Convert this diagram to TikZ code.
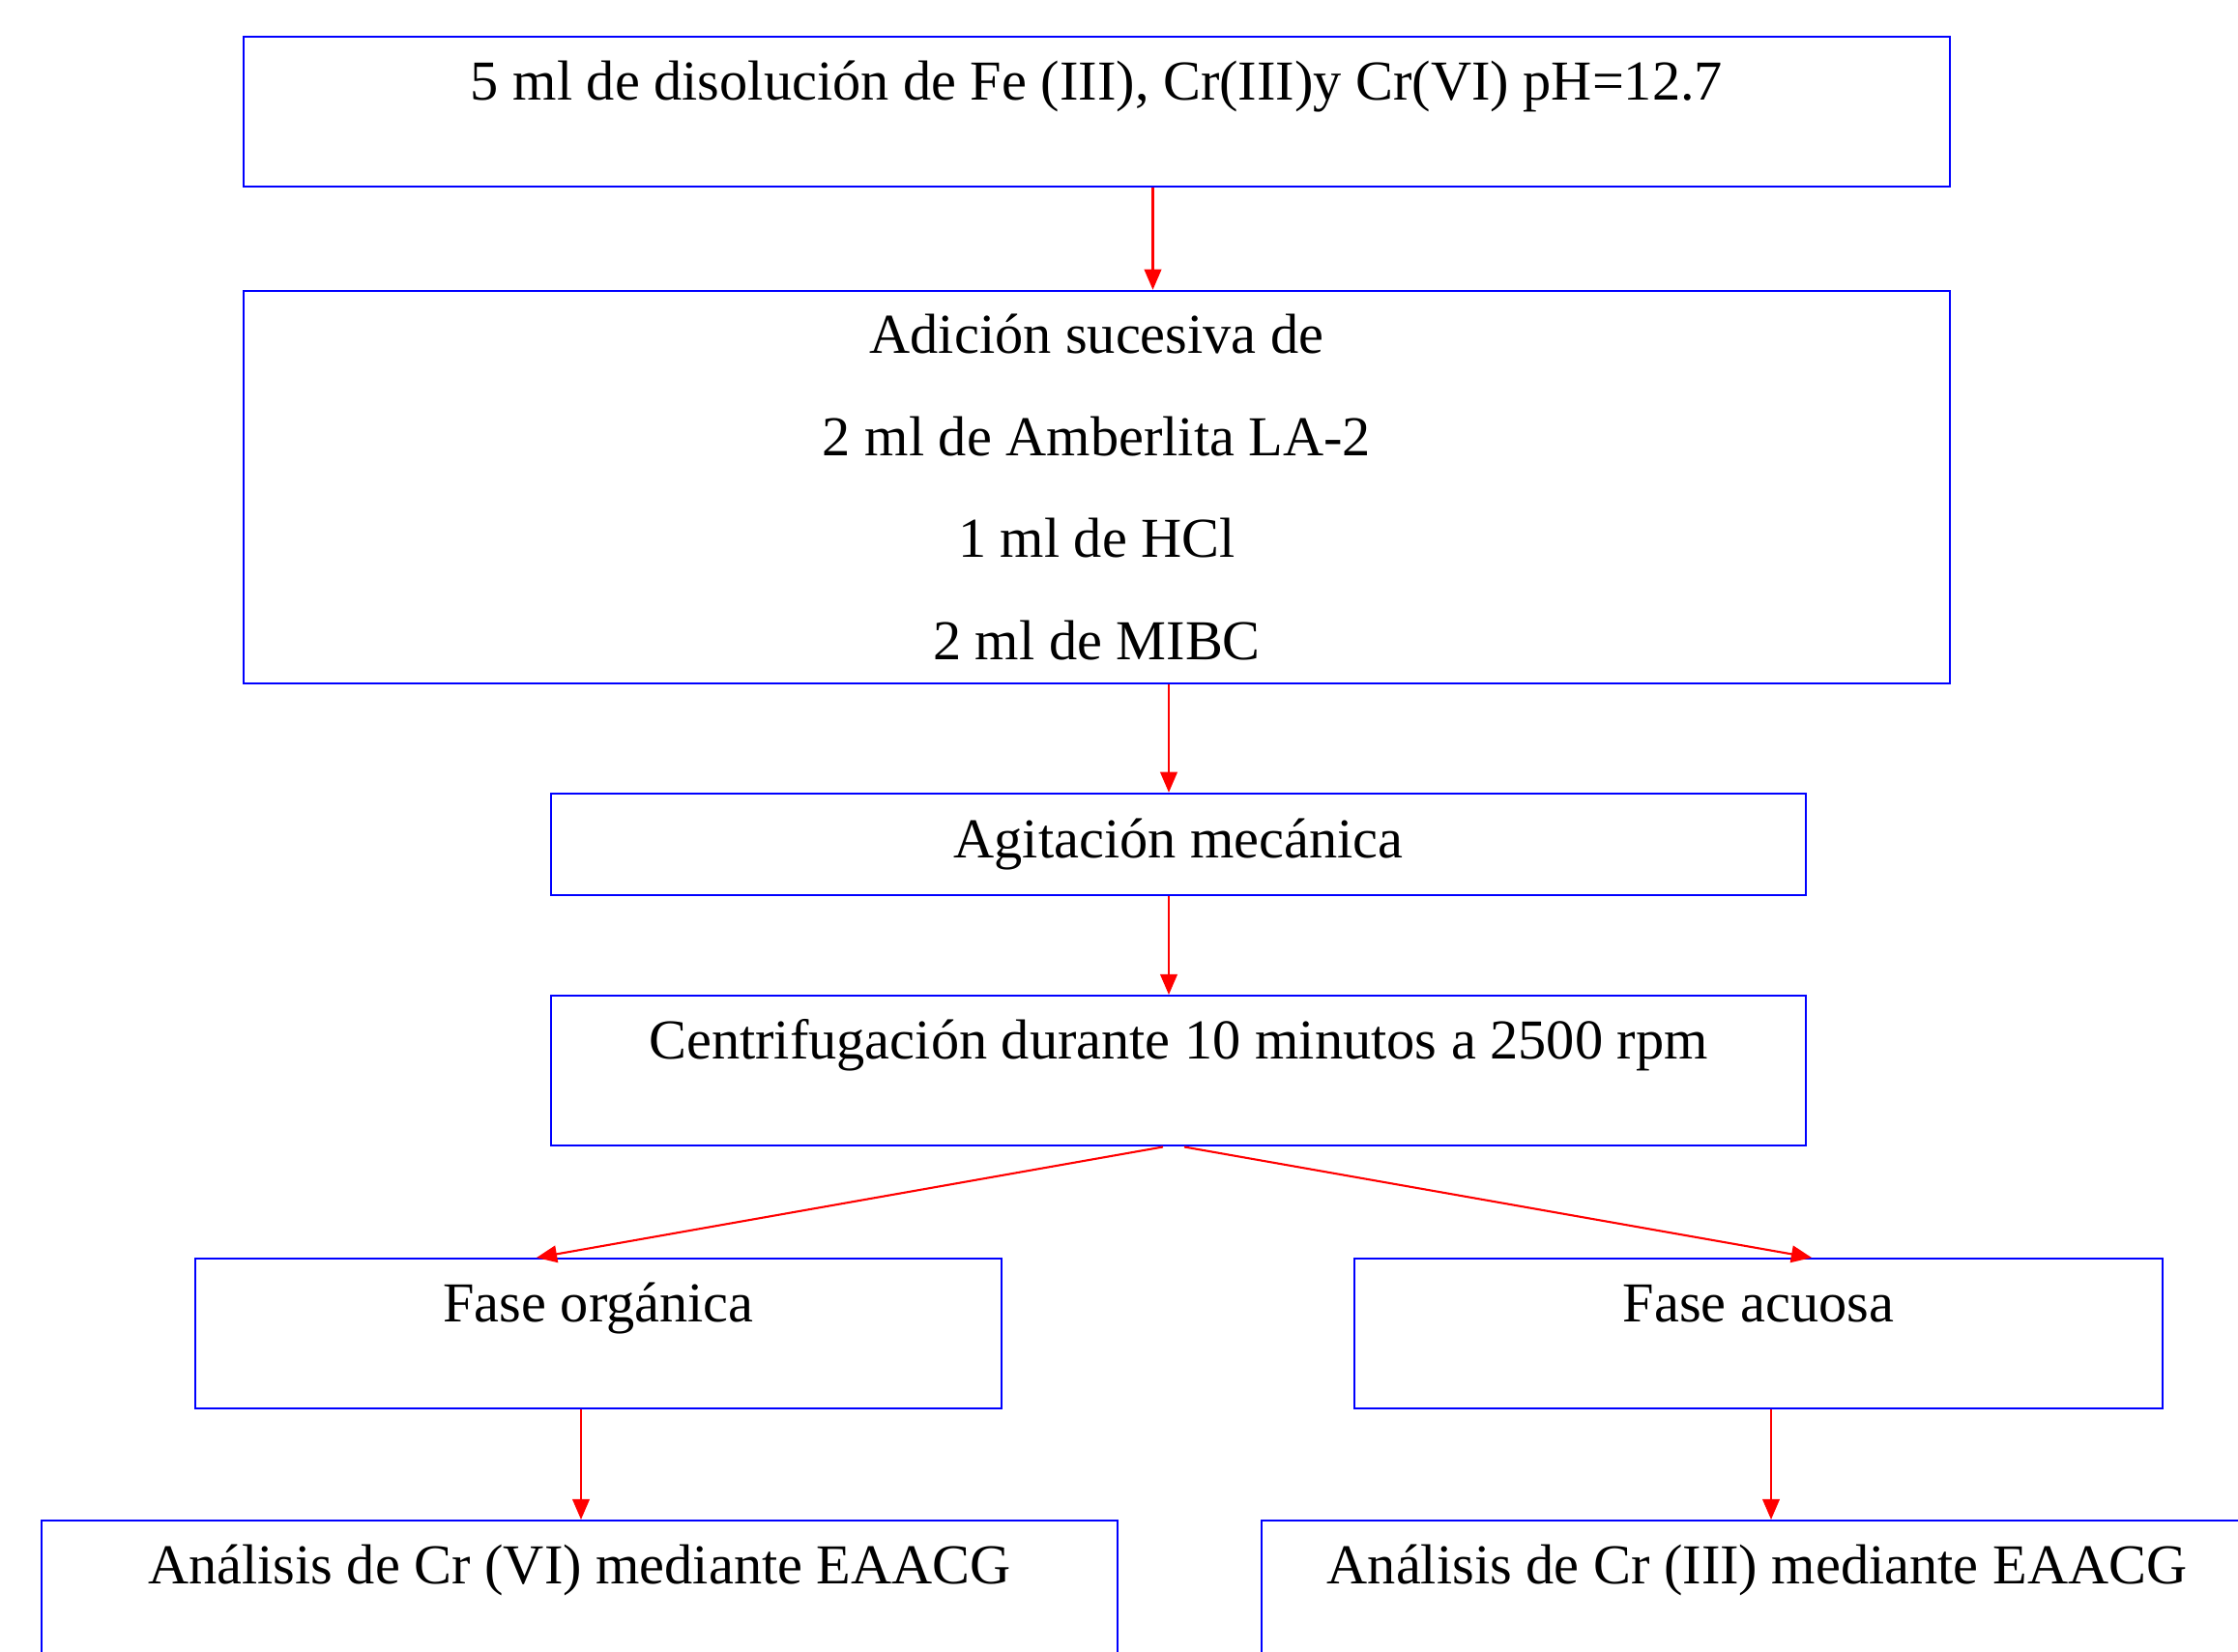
\documentclass[tikz,border=0pt]{standalone}
\usepackage{fontspec}
\setmainfont{Liberation Serif}
\usepackage{tikz}
\usetikzlibrary{arrows.meta}
\tikzset{
    flow-box/.style = {draw=blue, line width=0.7pt, rectangle, inner sep=0pt, align=center, font=\fontsize{16.6}{30.1}\selectfont},
    flow-top-box/.style = {flow-box, anchor=north, text height=0.65cm, text depth=0.90cm},
    flow-arrow/.style = {draw=red, line width=0.6pt, -{Triangle[length=6pt,width=5pt]}},
}

\begin{document}
\begin{tikzpicture}
\useasboundingbox (0,0) rectangle (23.15,-17.08);
\clip (0,0) rectangle (23.15,-17.08);
\node [flow-top-box, minimum width=17.65cm] (sample) at (11.345,-0.37) {5 ml de disolución de Fe (III), Cr(III)y Cr(VI) pH=12.7};
\node [flow-box, minimum width=17.65cm, minimum height=4.06cm] (reagents) at (11.345,-5.04) {Adición sucesiva de\\2 ml de Amberlita LA-2\\1 ml de HCl\\2 ml de MIBC};
\node [flow-box, minimum width=12.98cm, minimum height=1.05cm] (stirring) at (12.19,-8.735) {Agitación mecánica};
\node [flow-top-box, minimum width=12.98cm] (centrifuge) at (12.19,-10.29) {Centrifugación durante 10 minutos a 2500 rpm};
\node [flow-top-box, minimum width=8.34cm] (organic) at (6.19,-13.01) {Fase orgánica};
\node [flow-top-box, minimum width=8.36cm] (aqueous) at (18.19,-13.01) {Fase acuosa};
\node [flow-top-box, minimum width=11.13cm] (cr-six) at (5.995,-15.72) {Análisis de Cr (VI) mediante EAACG};
\node [flow-top-box, minimum width=10.25cm] (cr-three) at (18.175,-15.72) {Análisis de Cr (III) mediante EAACG};

\draw [flow-arrow] ([xshift=0.58cm]sample.south) -- ([xshift=0.58cm]sample.south |- reagents.north);
\draw [flow-arrow] ([xshift=0.745cm]reagents.south) -- ([xshift=-0.10cm]stirring.north);
\draw [flow-arrow] ([xshift=-0.10cm]stirring.south) -- ([xshift=-0.10cm]centrifuge.north);
\draw [flow-arrow] ([xshift=-0.16cm]centrifuge.south) -- ([xshift=-0.64cm]organic.north);
\draw [flow-arrow] ([xshift=0.06cm]centrifuge.south) -- ([xshift=0.55cm]aqueous.north);
\draw [flow-arrow] ([xshift=-0.18cm]organic.south) -- ([xshift=-0.18cm]organic.south |- cr-six.north);
\draw [flow-arrow] ([xshift=0.13cm]aqueous.south) -- ([xshift=0.13cm]aqueous.south |- cr-three.north);
\end{tikzpicture}
\end{document}
